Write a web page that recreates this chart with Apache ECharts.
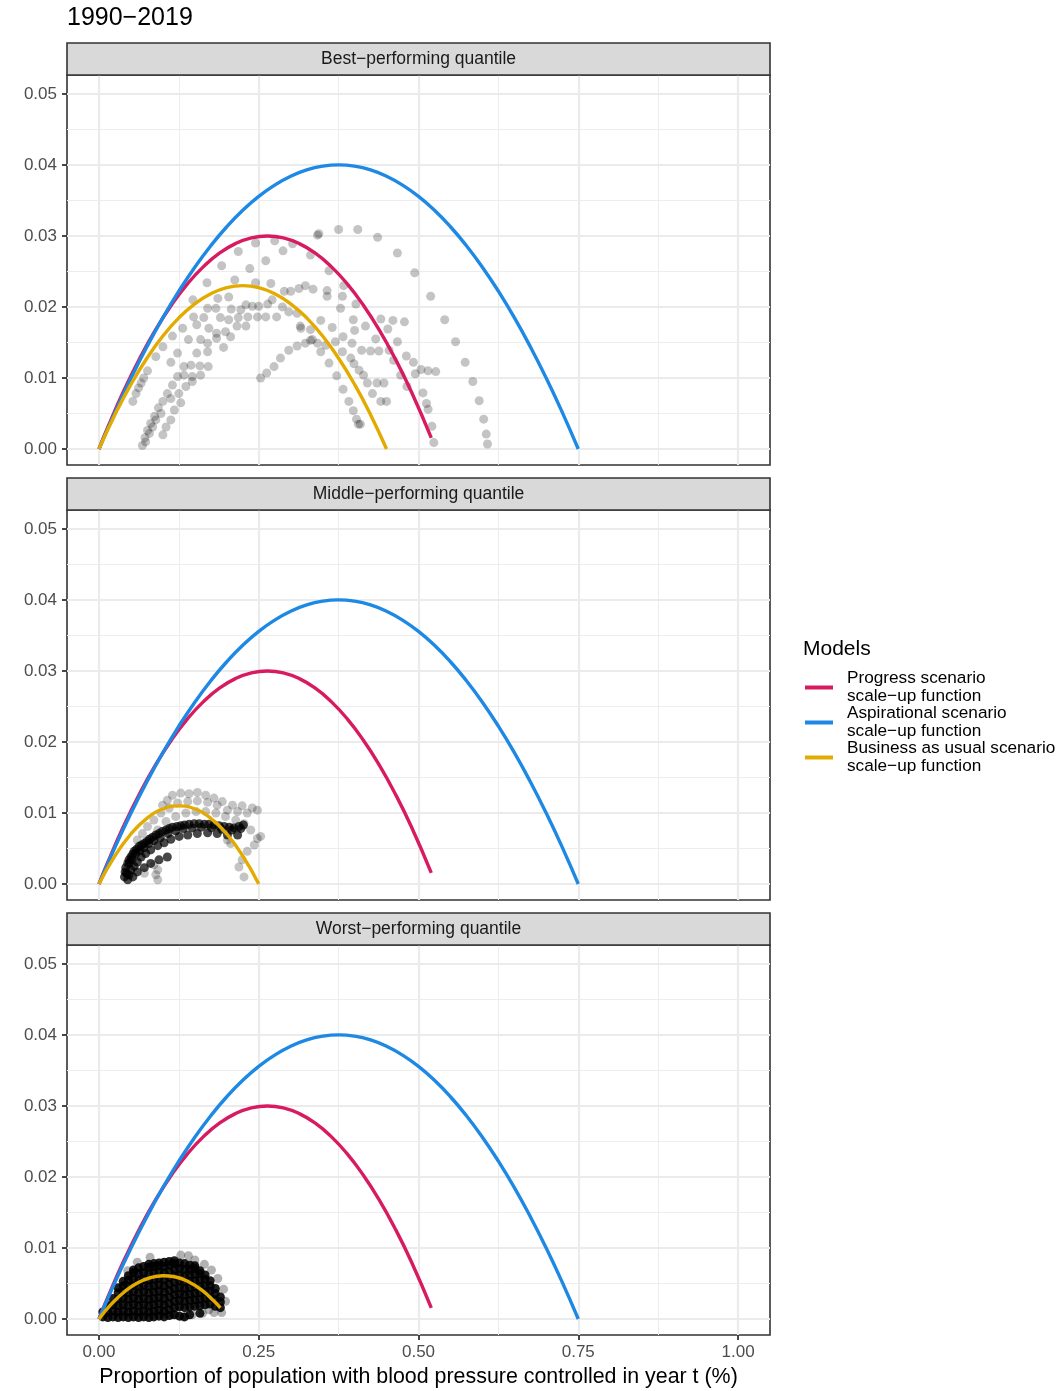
<!DOCTYPE html>
<html><head><meta charset="utf-8">
<script src="https://cdn.jsdelivr.net/npm/echarts@6/dist/echarts.min.js"></script>
<style>html,body{margin:0;padding:0;background:#fff}#c{width:1063px;height:1391px}</style>
</head><body><div id="c"></div>
<script>
// ---------- DATA ----------
const xTicks = [0, 0.25, 0.5, 0.75, 1];
const xMinor = [0.125, 0.375, 0.625, 0.875];
const yTicks = [0, 0.01, 0.02, 0.03, 0.04, 0.05];
const yMinor = [0.005, 0.015, 0.025, 0.035, 0.045];
const chartTitle = '1990−2019';
const panelTitles = ['Best−performing quantile', 'Middle−performing quantile', 'Worst−performing quantile'];
const modelNames = ['Progress scenario\nscale−up function', 'Aspirational scenario\nscale−up function', 'Business as usual scenario\nscale−up function'];
const legendTitle = 'Models';
const xAxisTitle = 'Proportion of population with blood pressure controlled in year t (%)';

// Aspirational scenario scale-up function (same in all panels)
const aspX = [0,0.025,0.05,0.075,0.1,0.125,0.15,0.175,0.2,0.225,0.25,0.275,0.3,0.325,0.35,0.375,0.4,0.425,0.45,0.475,0.5,0.525,0.55,0.575,0.6,0.625,0.65,0.675,0.7,0.725,0.75];
const aspY = [0,0.00516,0.00996,0.0144,0.01849,0.02222,0.0256,0.02862,0.03129,0.0336,0.03556,0.03715,0.0384,0.03929,0.03982,0.04,0.03982,0.03929,0.0384,0.03715,0.03556,0.0336,0.03129,0.02862,0.0256,0.02222,0.01849,0.0144,0.00996,0.00516,0];
// Progress scenario scale-up function (same in all panels)
const progX = [0,0.0135,0.0385,0.0635,0.0885,0.1135,0.1385,0.1635,0.1885,0.2135,0.2385,0.2635,0.2885,0.3135,0.3385,0.3635,0.3885,0.4135,0.4385,0.4635,0.4885,0.52];
const progY = [0,0.002995,0.008125,0.012715,0.016765,0.020275,0.023245,0.025675,0.027565,0.02891,0.02972,0.02999,0.02972,0.02891,0.027565,0.025675,0.023245,0.020275,0.016765,0.012715,0.008125,0.00157];
// Business as usual scale-up functions (one per panel)
const bauBestX = [0,0.025,0.05,0.075,0.1,0.125,0.15,0.175,0.2,0.225,0.25,0.275,0.3,0.325,0.35,0.375,0.4,0.425,0.45];
const bauBestY = [0,0.00483,0.00909,0.01278,0.0159,0.01846,0.02044,0.02186,0.02272,0.023,0.02272,0.02186,0.02044,0.01846,0.0159,0.01278,0.00909,0.00483,0];
const bauMidX = [0,0.025,0.05,0.075,0.1,0.125,0.15,0.175,0.2,0.225,0.25];
const bauMidY = [0,0.00396,0.00704,0.00924,0.01056,0.011,0.01056,0.00924,0.00704,0.00396,0];
const bauWorstX = [0,0.02,0.04,0.06,0.08,0.1,0.12,0.14,0.16,0.18,0.19];
const bauWorstY = [0,0.00216,0.00384,0.00506,0.00581,0.00609,0.00591,0.00525,0.00413,0.00253,0.00156];

// Observed country-years, best-performing quantile
const bestPoints = [
[0.342,0.0301],[0.245,0.0290],[0.275,0.0293],[0.288,0.0279],[0.303,0.0289],[0.331,0.0273],[0.218,0.0278],[0.261,0.0265],
[0.192,0.0258],[0.236,0.0254],[0.169,0.0234],[0.2125,0.0238],[0.245,0.0234],[0.269,0.0233],[0.147,0.0210],[0.186,0.0212],
[0.203,0.0214],[0.170,0.0198],[0.183,0.0198],[0.207,0.0197],[0.222,0.0196],[0.230,0.0203],[0.240,0.0201],[0.250,0.0201],
[0.264,0.0204],[0.271,0.0210],[0.290,0.0222],[0.300,0.0222],[0.313,0.0226],[0.323,0.0230],[0.335,0.0225],[0.287,0.0200],
[0.297,0.0193],[0.310,0.0191],[0.148,0.0186],[0.164,0.0185],[0.190,0.0185],[0.203,0.0182],[0.218,0.0185],[0.233,0.0186],
[0.248,0.0186],[0.261,0.0186],[0.278,0.0186],[0.131,0.0170],[0.153,0.0175],[0.172,0.0170],[0.216,0.0173],[0.230,0.0173],
[0.315,0.0173],[0.115,0.0159],[0.140,0.0154],[0.159,0.0154],[0.170,0.0149],[0.184,0.0163],[0.198,0.0165],[0.206,0.0158],
[0.184,0.0156],[0.100,0.0144],[0.123,0.0135],[0.153,0.0135],[0.170,0.0137],[0.195,0.0143],[0.334,0.0154],[0.323,0.0149],
[0.310,0.0145],[0.297,0.0139],[0.284,0.0128],[0.274,0.0116],[0.2625,0.0107],[0.253,0.0100],[0.089,0.0130],[0.1125,0.0122],
[0.144,0.0118],[0.158,0.0117],[0.171,0.0116],[0.076,0.0110],[0.133,0.0116],[0.133,0.0104],[0.123,0.0102],[0.146,0.0102],
[0.159,0.0104],[0.066,0.0093],[0.115,0.0090],[0.136,0.0088],[0.146,0.0095],[0.058,0.0078],[0.107,0.0078],[0.125,0.0078],
[0.053,0.0067],[0.100,0.0067],[0.1125,0.0071],[0.128,0.0065],[0.097,0.0050],[0.118,0.0055],[0.089,0.0041],[0.1125,0.0041],
[0.084,0.0031],[0.105,0.0031],[0.079,0.0022],[0.100,0.0020],[0.073,0.0010],
[0.344,0.0303],[0.375,0.0309],[0.405,0.0309],[0.436,0.0298],[0.467,0.0276],[0.494,0.0248],[0.519,0.0215],[0.541,0.0182],
[0.558,0.0151],[0.573,0.0122],[0.585,0.0095],[0.595,0.0068],[0.602,0.0042],[0.606,0.0021],[0.608,0.0007],
[0.360,0.0251],[0.357,0.0223],[0.357,0.0215],[0.381,0.0215],[0.383,0.0230],[0.402,0.0204],[0.378,0.0198],[0.398,0.0182],
[0.417,0.0173],[0.441,0.0183],[0.460,0.0181],[0.478,0.0179],[0.452,0.0169],[0.433,0.0155],[0.467,0.0151],[0.400,0.0167],
[0.382,0.0158],[0.365,0.0171],[0.347,0.0181],[0.331,0.0168],[0.316,0.0170],[0.331,0.0153],[0.342,0.0149],[0.355,0.0146],
[0.370,0.0151],[0.396,0.0149],[0.411,0.0139],[0.425,0.0138],[0.438,0.0138],[0.454,0.0139],[0.347,0.0137],[0.381,0.0137],
[0.394,0.0128],[0.399,0.0120],[0.407,0.0111],[0.414,0.0104],[0.360,0.0121],[0.372,0.0103],[0.420,0.0093],[0.435,0.0093],
[0.446,0.0093],[0.428,0.0078],[0.382,0.0084],[0.391,0.0067],[0.441,0.0067],[0.450,0.0067],[0.398,0.0054],[0.403,0.0042],
[0.409,0.0035],[0.406,0.0035],[0.481,0.0131],[0.492,0.0122],[0.461,0.0125],[0.472,0.0104],[0.482,0.0088],[0.495,0.0106],
[0.504,0.0112],[0.515,0.0110],[0.527,0.0109],[0.507,0.0079],[0.5125,0.0064],[0.515,0.0056],[0.521,0.0032],[0.524,0.0009],
[0.072,0.0016],[0.076,0.0026],[0.081,0.0036],[0.068,0.0005],[0.087,0.0046],[0.093,0.0058],[0.062,0.0086],[0.070,0.0100]
];

// Observed country-years, middle-performing quantile (sparse outer points)
const middleOuter = [
[0.0995,0.0111],[0.107,0.0118],[0.115,0.0125],[0.128,0.0128],[0.141,0.0127],[0.154,0.0129],[0.167,0.0125],[0.180,0.0121],
[0.193,0.0116],[0.209,0.0111],[0.224,0.0110],[0.240,0.0107],[0.248,0.0104],[0.232,0.0100],[0.217,0.0102],[0.201,0.0104],
[0.185,0.0111],[0.170,0.0115],[0.154,0.0117],[0.139,0.0116],[0.123,0.0114],[0.110,0.0107],[0.097,0.0100],[0.086,0.0090],
[0.076,0.0081],[0.068,0.0071],[0.060,0.0062],
[0.081,0.0064],[0.092,0.0076],[0.105,0.0088],[0.120,0.0095],[0.136,0.0100],[0.152,0.0102],[0.167,0.0102],[0.183,0.0100],
[0.198,0.0095],[0.214,0.0090],[0.227,0.0085],[0.2375,0.0076],[0.248,0.0064],[0.253,0.0067],[0.243,0.0055],[0.232,0.0046],
[0.224,0.0034],[0.227,0.0010],[0.219,0.0024],[0.201,0.0062],[0.206,0.0057],
[0.092,0.0020],[0.092,0.0006],[0.089,0.0013],[0.071,0.0015],[0.086,0.0027]
];
// Observed country-years, middle-performing quantile (dense core track)
const middleCore = [
[0.040,0.0010],[0.041,0.0017],[0.042,0.0023],[0.045,0.0029],[0.047,0.0034],[0.050,0.0038],[0.053,0.0042],[0.055,0.0046],
[0.059,0.0049],[0.063,0.0053],[0.067,0.0055],[0.071,0.0057],[0.075,0.0060],[0.079,0.0063],[0.084,0.0066],[0.089,0.0069],
[0.094,0.0071],[0.099,0.0074],[0.105,0.0076],[0.110,0.0078],[0.115,0.0080],[0.122,0.0081],[0.128,0.0082],[0.134,0.0083],
[0.141,0.0084],[0.149,0.0085],[0.157,0.0085],[0.165,0.0084],[0.172,0.0084],[0.180,0.0083],[0.188,0.0082],[0.196,0.0081],
[0.204,0.0080],[0.211,0.0079],[0.219,0.0081],[0.226,0.0083],
[0.045,0.0006],[0.047,0.0013],[0.050,0.0020],[0.055,0.0025],[0.060,0.0031],[0.066,0.0038],[0.073,0.0043],[0.081,0.0048],
[0.092,0.0054],[0.102,0.0058],[0.1125,0.0063],[0.1255,0.0067],[0.139,0.0069],[0.154,0.0071],[0.170,0.0072],[0.185,0.0071],
[0.201,0.0069],[0.217,0.0069],
[0.053,0.0010],[0.060,0.0017],[0.071,0.0023],[0.081,0.0029],[0.094,0.0034],[0.107,0.0038],
[0.043,0.0015],[0.048,0.0030],[0.052,0.0035],[0.058,0.0043],[0.064,0.0047],[0.070,0.0051],[0.078,0.0057],[0.086,0.0061],
[0.096,0.0065],[0.108,0.0071],[0.120,0.0075],[0.132,0.0078],[0.146,0.0079],[0.160,0.0080],[0.176,0.0079],[0.192,0.0077],
[0.208,0.0076],[0.222,0.0078]
];

// Observed country-years, worst-performing quantile (dense blob)
const worstPoints = [
[0.006,0.0003],[0.006,0.0010],
[0.014,0.0002],[0.014,0.0010],[0.014,0.0019],
[0.022,0.0003],[0.022,0.0011],[0.022,0.0020],[0.022,0.0029],
[0.030,0.0002],[0.030,0.0010],[0.030,0.0019],[0.030,0.0028],[0.030,0.0037],[0.030,0.0044],
[0.038,0.0003],[0.038,0.0011],[0.038,0.0020],[0.038,0.0029],[0.038,0.0038],[0.038,0.0047],[0.038,0.0053],
[0.046,0.0002],[0.046,0.0010],[0.046,0.0019],[0.046,0.0028],[0.046,0.0037],[0.046,0.0046],[0.046,0.0055],[0.046,0.0061],
[0.054,0.0003],[0.054,0.0011],[0.054,0.0020],[0.054,0.0029],[0.054,0.0038],[0.054,0.0047],[0.054,0.0056],[0.054,0.0065],[0.054,0.0069],
[0.062,0.0002],[0.062,0.0010],[0.062,0.0019],[0.062,0.0028],[0.062,0.0037],[0.062,0.0046],[0.062,0.0055],[0.062,0.0064],[0.062,0.0072],
[0.070,0.0003],[0.070,0.0011],[0.070,0.0020],[0.070,0.0029],[0.070,0.0038],[0.070,0.0047],[0.070,0.0056],[0.070,0.0065],[0.070,0.0074],
[0.078,0.0002],[0.078,0.0010],[0.078,0.0019],[0.078,0.0028],[0.078,0.0037],[0.078,0.0046],[0.078,0.0055],[0.078,0.0064],[0.078,0.0073],[0.078,0.0077],
[0.086,0.0003],[0.086,0.0011],[0.086,0.0020],[0.086,0.0029],[0.086,0.0038],[0.086,0.0047],[0.086,0.0056],[0.086,0.0065],[0.086,0.0074],[0.086,0.0078],
[0.094,0.0004],[0.094,0.0012],[0.094,0.0021],[0.094,0.0030],[0.094,0.0039],[0.094,0.0048],[0.094,0.0057],[0.094,0.0066],[0.094,0.0075],[0.094,0.0079],
[0.102,0.0003],[0.102,0.0011],[0.102,0.0020],[0.102,0.0029],[0.102,0.0038],[0.102,0.0047],[0.102,0.0056],[0.102,0.0065],[0.102,0.0074],[0.102,0.0080],
[0.110,0.0005],[0.110,0.0013],[0.110,0.0022],[0.110,0.0031],[0.110,0.0040],[0.110,0.0049],[0.110,0.0058],[0.110,0.0067],[0.110,0.0076],[0.110,0.0081],
[0.118,0.0006],[0.118,0.0016],[0.118,0.0025],[0.118,0.0034],[0.118,0.0043],[0.118,0.0052],[0.118,0.0061],[0.118,0.0070],[0.118,0.0078],[0.118,0.0082],
[0.126,0.0004],[0.126,0.0017],[0.126,0.0026],[0.126,0.0035],[0.126,0.0044],[0.126,0.0053],[0.126,0.0062],[0.126,0.0071],[0.126,0.0079],
[0.134,0.0003],[0.134,0.0016],[0.134,0.0025],[0.134,0.0034],[0.134,0.0043],[0.134,0.0052],[0.134,0.0061],[0.134,0.0070],[0.134,0.0078],
[0.142,0.0006],[0.142,0.0017],[0.142,0.0026],[0.142,0.0035],[0.142,0.0044],[0.142,0.0053],[0.142,0.0062],[0.142,0.0070],[0.142,0.0076],
[0.150,0.0018],[0.150,0.0027],[0.150,0.0036],[0.150,0.0045],[0.150,0.0054],[0.150,0.0063],[0.150,0.0071],[0.150,0.0075],
[0.158,0.0008],[0.158,0.0019],[0.158,0.0028],[0.158,0.0037],[0.158,0.0046],[0.158,0.0055],[0.158,0.0064],[0.158,0.0068],
[0.166,0.0020],[0.166,0.0029],[0.166,0.0038],[0.166,0.0047],[0.166,0.0056],[0.166,0.0062],
[0.174,0.0021],[0.174,0.0030],[0.174,0.0039],[0.174,0.0047],[0.174,0.0054],
[0.182,0.0018],[0.182,0.0027],[0.182,0.0036],[0.182,0.0043],
[0.190,0.0016],[0.190,0.0024],[0.190,0.0031]
];
// Observed country-years, worst-performing quantile (isolated edge points)
const worstOuter = [
[0.115,0.0006],[0.131,0.0003],[0.146,0.0006],[0.162,0.0008],[0.150,0.0083],[0.165,0.0077],[0.176,0.0069],[0.186,0.0057],
[0.195,0.0042],[0.198,0.0025],[0.192,0.0009],[0.060,0.0080],[0.045,0.0068],[0.080,0.0087],[0.140,0.0089],[0.128,0.0090],
[0.172,0.0013],[0.180,0.0009]
];

// ---------- CHART ----------
const FONT = "'Liberation Sans', Arial, sans-serif";
const RED = '#D81B60', BLUE = '#1E88E5', GOLD = '#E3AA00';
const gridTops = [75, 510, 945];
const GL = 67, GW = 703, GH = 390;
const Y_MIN = -0.00225, Y_MAX = 0.05265;
const zip = (xs, ys) => xs.map((x, i) => [x, ys[i]]);
const bauX = [bauBestX, bauMidX, bauWorstX];
const bauY = [bauBestY, bauMidY, bauWorstY];

const grids = [], xAxes = [], yAxes = [], series = [], graphics = [];
for (let i = 0; i < 3; i++) {
  grids.push({ left: GL, top: gridTops[i], width: GW, height: GH, show: true, borderColor: '#333333', borderWidth: 1.6, backgroundColor: 'transparent', containLabel: false });
}
const majorSplit = { show: true, lineStyle: { color: '#EBEBEB', width: 2.2 } };
const minorSplit = { show: true, lineStyle: { color: '#EDEDED', width: 1 } };
for (let i = 0; i < 3; i++) {
  xAxes.push({
    type: 'value', gridIndex: i, min: -0.05, max: 1.05,
    axisLine: { show: false, onZero: false },
    axisTick: { show: i === 2, length: 5, lineStyle: { color: '#333333', width: 1.8 }, customValues: xTicks },
    axisLabel: { show: i === 2, customValues: xTicks, formatter: v => v.toFixed(2), color: '#4D4D4D', fontSize: 17, fontFamily: FONT, margin: 9 },
    splitLine: majorSplit, z: 1
  });
}
for (let i = 0; i < 3; i++) {
  xAxes.push({
    type: 'value', gridIndex: i, min: -0.05, max: 1.05,
    axisLine: { show: false, onZero: false },
    axisTick: { show: false, customValues: xMinor },
    axisLabel: { show: false, customValues: xMinor },
    splitLine: minorSplit, z: 0
  });
}
for (let i = 0; i < 3; i++) {
  yAxes.push({
    type: 'value', gridIndex: i, min: Y_MIN, max: Y_MAX,
    axisLine: { show: false, onZero: false },
    axisTick: { show: true, length: 5, lineStyle: { color: '#333333', width: 1.8 }, customValues: yTicks },
    axisLabel: { show: true, customValues: yTicks, formatter: v => v.toFixed(2), color: '#4D4D4D', fontSize: 17, fontFamily: FONT, margin: 10 },
    splitLine: majorSplit, z: 1
  });
}
for (let i = 0; i < 3; i++) {
  yAxes.push({
    type: 'value', gridIndex: i, min: Y_MIN, max: Y_MAX,
    axisLine: { show: false, onZero: false },
    axisTick: { show: false, customValues: yMinor },
    axisLabel: { show: false, customValues: yMinor },
    splitLine: minorSplit, z: 0
  });
}

const scatterSets = [
  [{ data: bestPoints, op: 0.23 }],
  [{ data: middleOuter, op: 0.23 }, { data: middleCore, op: 0.72 }],
  [{ data: worstOuter, op: 0.3 }, { data: worstPoints, op: 0.88 }]
];
for (let i = 0; i < 3; i++) {
  scatterSets[i].forEach(s => {
    series.push({
      type: 'scatter', xAxisIndex: i, yAxisIndex: i, data: s.data, symbolSize: 9,
      itemStyle: { color: '#000000', opacity: s.op }, silent: true, z: 2
    });
  });
  const lineBase = { type: 'line', xAxisIndex: i, yAxisIndex: i, showSymbol: false, smooth: true, z: 3, silent: true };
  series.push(Object.assign({}, lineBase, { name: modelNames[0], data: zip(progX, progY), lineStyle: { color: RED, width: 3.4 }, itemStyle: { color: RED } }));
  series.push(Object.assign({}, lineBase, { name: modelNames[1], data: zip(aspX, aspY), lineStyle: { color: BLUE, width: 3.4 }, itemStyle: { color: BLUE } }));
  series.push(Object.assign({}, lineBase, { name: modelNames[2], data: zip(bauX[i], bauY[i]), lineStyle: { color: GOLD, width: 3.4 }, itemStyle: { color: GOLD } }));

  graphics.push({ type: 'rect', shape: { x: GL, y: gridTops[i] - 32, width: GW, height: 32 }, style: { fill: '#D9D9D9', stroke: '#333333', lineWidth: 1.6 }, z: 10 });
  graphics.push({ type: 'text', x: GL + GW / 2, y: gridTops[i] - 15.5, style: { text: panelTitles[i], fill: '#1A1A1A', font: '17.5px ' + FONT, textAlign: 'center', textVerticalAlign: 'middle' }, z: 11 });
}
graphics.push({ type: 'text', x: 67, y: 18, style: { text: chartTitle, fill: '#000000', font: '25px ' + FONT, textAlign: 'left', textVerticalAlign: 'middle' } });
graphics.push({ type: 'text', x: 803, y: 649, style: { text: legendTitle, fill: '#000000', font: '21px ' + FONT, textAlign: 'left', textVerticalAlign: 'middle' } });
graphics.push({ type: 'text', x: GL + GW / 2, y: 1377, style: { text: xAxisTitle, fill: '#000000', font: '21.4px ' + FONT, textAlign: 'center', textVerticalAlign: 'middle' } });

const chart = echarts.init(document.getElementById('c'), null, { renderer: 'canvas' });
chart.setOption({
  animation: false,
  backgroundColor: '#ffffff',
  grid: grids,
  xAxis: xAxes,
  yAxis: yAxes,
  legend: {
    data: modelNames.map(n => ({ name: n, icon: 'rect' })),
    orient: 'vertical', left: 805, top: 670, padding: 0, itemGap: 0,
    itemWidth: 28, itemHeight: 4, selectedMode: false,
    textStyle: { color: '#000000', fontSize: 17.2, lineHeight: 17.5, fontFamily: FONT, padding: [0, 0, 0, 9] }
  },
  graphic: graphics,
  series: series
});
</script></body></html>
